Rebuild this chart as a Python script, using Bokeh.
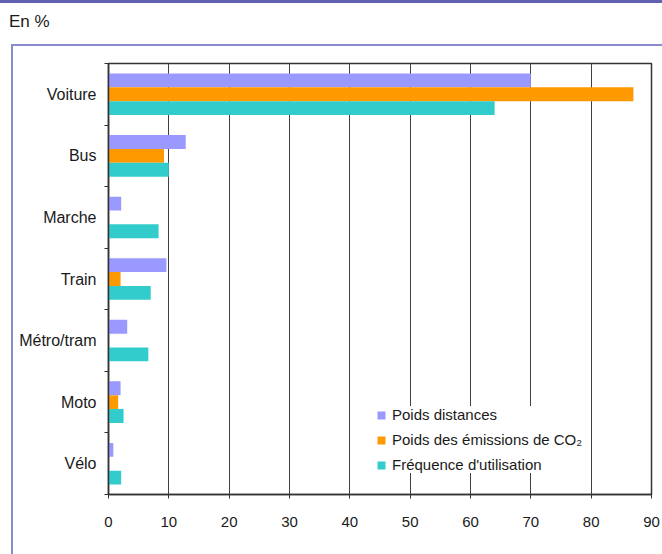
from bokeh.plotting import figure
from bokeh.models import Range1d, FixedTicker, ColumnDataSource, Div
from bokeh.layouts import column
from bokeh.transform import dodge
from bokeh.embed import file_html
from bokeh.resources import INLINE

# ---- data ----
categories = ["Voiture", "Bus", "Marche", "Train", "Métro/tram", "Moto", "Vélo"]
poids_distances = [70, 12.8, 2.1, 9.6, 3.1, 2.0, 0.8]
poids_co2 = [87, 9.2, 0, 2.0, 0, 1.6, 0]
frequence = [64, 10, 8.3, 7.0, 6.6, 2.5, 2.1]
series_labels = ["Poids distances", "Poids des émissions de CO\u2082", "Fréquence d'utilisation"]
series_colors = ["#9999FF", "#FF9900", "#33CCCC"]
x_ticks = [0, 10, 20, 30, 40, 50, 60, 70, 80, 90]
unit_label = "En %"

n = len(categories)
ypos = [n - 0.5 - i for i in range(n)]

W, H = 662, 554
HEAD = 44
BL, BR, BT, BB = 108, 11, 63 - HEAD, 60
XMAX = x_ticks[-1]

FONT = "Liberation Sans"
TXT = "#1a1a1a"

head = Div(text=unit_label, width=W, height=HEAD, margin=0,
           styles={"font-family": FONT, "font-size": "17px", "line-height": "44px",
                   "text-indent": "9px", "color": TXT,
                   "background": "linear-gradient(#6161b1,#6161b1) 0px 0px / 100% 3px no-repeat, #ffffff"})

p = figure(width=W, height=H - HEAD, output_backend="svg", toolbar_location=None,
           x_range=Range1d(0, XMAX), y_range=Range1d(0, n),
           min_border_left=BL, min_border_right=BR, min_border_top=BT, min_border_bottom=BB)
p.margin = 0
p.background_fill_color = "white"
p.border_fill_color = None
p.outline_line_color = "#333333"
p.outline_line_width = 1.5
p.styles = {
    "background": "linear-gradient(#8a8ace,#8a8ace) 11px 0px / 100% 2px no-repeat, "
                  "linear-gradient(#8a8ace,#8a8ace) 11px 0px / 2px 100% no-repeat, #ffffff"
}

src = ColumnDataSource(dict(y=ypos, d=poids_distances, c=poids_co2, f=frequence))
bh = 0.225
for col, off, lab, colr in zip(["d", "c", "f"], [bh, 0, -bh], series_labels, series_colors):
    p.hbar(y=dodge("y", off, range=p.y_range), right=col, left=0, height=bh, source=src,
           fill_color=colr, line_color=None, legend_label=lab)

# axes
xa = p.xaxis[0]
xa.ticker = FixedTicker(ticks=x_ticks)
xa.major_tick_out = 4
xa.major_tick_in = 0
xa.minor_tick_out = 0
xa.minor_tick_in = 0
xa.axis_line_color = "#333333"
xa.axis_line_width = 1.5
xa.major_tick_line_color = "#333333"
xa.major_label_standoff = 18
xa.major_label_text_font = FONT
xa.major_label_text_font_size = "15px"
xa.major_label_text_color = TXT

ya = p.yaxis[0]
ya.ticker = FixedTicker(ticks=ypos, minor_ticks=list(range(0, n + 1)))
ya.major_label_overrides = {y: c for y, c in zip(ypos, categories)}
ya.major_tick_out = 0
ya.major_tick_in = 0
ya.minor_tick_out = 4
ya.minor_tick_in = 0
ya.minor_tick_line_color = "#333333"
ya.axis_line_color = "#333333"
ya.axis_line_width = 1.5
ya.major_label_standoff = 8
ya.major_label_text_font = FONT
ya.major_label_text_font_size = "16px"
ya.major_label_text_color = TXT

p.ygrid.grid_line_color = None
p.xgrid.grid_line_color = "#404040"
p.xgrid.grid_line_width = 1
p.xgrid.ticker = FixedTicker(ticks=x_ticks[1:-1])

# legend
lg = p.legend[0]
lg.location = (268, 21)
lg.margin = 0
lg.padding = 5
lg.spacing = 8
lg.border_line_color = None
lg.background_fill_color = "white"
lg.background_fill_alpha = 1
lg.glyph_width = 10
lg.glyph_height = 10
lg.label_standoff = 6
lg.label_text_font = FONT
lg.label_text_font_size = "15px"
lg.label_text_color = TXT

layout = column(head, p, spacing=0)
open("out.html", "w").write(file_html(layout, INLINE))
